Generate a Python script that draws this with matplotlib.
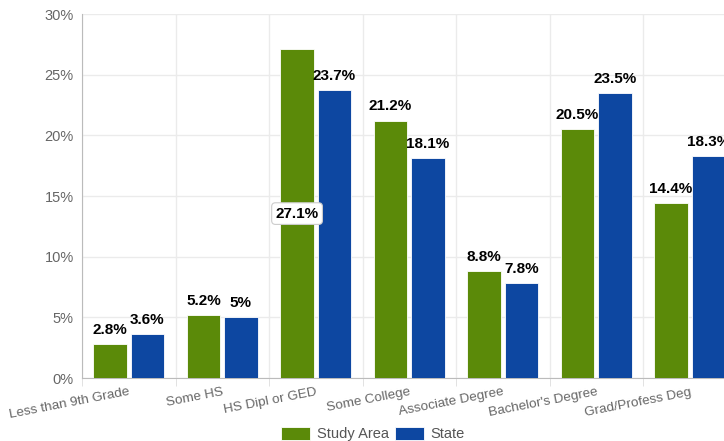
import matplotlib
matplotlib.use("Agg")
import matplotlib.pyplot as plt
import numpy as np
from matplotlib.ticker import FuncFormatter, MultipleLocator

categories = ["Less than 9th Grade", "Some HS", "HS Dipl or GED", "Some College",
              "Associate Degree", "Bachelor's Degree", "Grad/Profess Deg"]
study_area = [2.8, 5.2, 27.1, 21.2, 8.8, 20.5, 14.4]
state = [3.6, 5.0, 23.7, 18.1, 7.8, 23.5, 18.3]
series_names = ["Study Area", "State"]
colors = ["#5B8A09", "#0D47A1"]

plt.rcParams['font.family'] = ['Liberation Sans', 'DejaVu Sans']

fig = plt.figure(figsize=(7.24, 4.41), dpi=100)
ax = fig.add_axes([82/724, 63/441, 1 - 82/724, (378-14)/441])

x = np.arange(len(categories))
w = 0.36
off = 0.2
for vals, sgn, col, name in [(study_area, -1, colors[0], series_names[0]),
                             (state, 1, colors[1], series_names[1])]:
    bars = ax.bar(x + sgn*off, vals, width=w, color=col, edgecolor='white',
                  linewidth=0.6, label=name, zorder=3)
    for xi, v in zip(x + sgn*off, vals):
        lab = f"{v:g}%"
        if v > 26:
            ax.text(xi, v/2, lab, ha='center', va='center', fontsize=11,
                    fontweight='bold', color='black', zorder=5,
                    bbox=dict(boxstyle='round,pad=0.25', fc='white', ec='#cccccc', lw=0.8))
        else:
            ax.text(xi, v + 0.6, lab, ha='center', va='bottom', fontsize=11,
                    fontweight='bold', color='black', zorder=5)

ax.yaxis.set_major_locator(MultipleLocator(5))
ax.yaxis.set_major_formatter(FuncFormatter(lambda v, p: f"{v:.0f}%"))
ax.tick_params(axis='y', length=0, labelsize=10.5, labelcolor='#666666', pad=6)

ax.set_xticks(x)
ax.set_xticklabels(categories, rotation=11, ha='right', rotation_mode='anchor',
                   fontsize=9.7, color='#666666')
ax.tick_params(axis='x', length=0, pad=6)
ax.set_xticks(np.arange(len(categories)+1) - 0.5, minor=True)
ax.tick_params(axis='x', which='minor', length=6, color='#dddddd')

ax.set_ylim(0, 30)
ax.set_xlim(-0.5, -0.5 + 642/93.5)

ax.grid(axis='y', color='#ebebeb', linewidth=1, zorder=0)
ax.grid(axis='x', which='minor', color='#ebebeb', linewidth=1, zorder=0)
ax.grid(axis='x', which='major', visible=False)
for s in ['top', 'right']:
    ax.spines[s].set_visible(False)
ax.spines['left'].set_color('#bbbbbb')
ax.spines['bottom'].set_color('#bbbbbb')

leg = fig.legend(loc='lower center', bbox_to_anchor=(0.515, -0.03), ncol=2, frameon=False,
                 fontsize=10.5, handlelength=2.0, handleheight=1.0, columnspacing=0.4,
                 handletextpad=0.45)
for t in leg.get_texts():
    t.set_color('#555555')

fig.savefig("out.png", dpi=100)
